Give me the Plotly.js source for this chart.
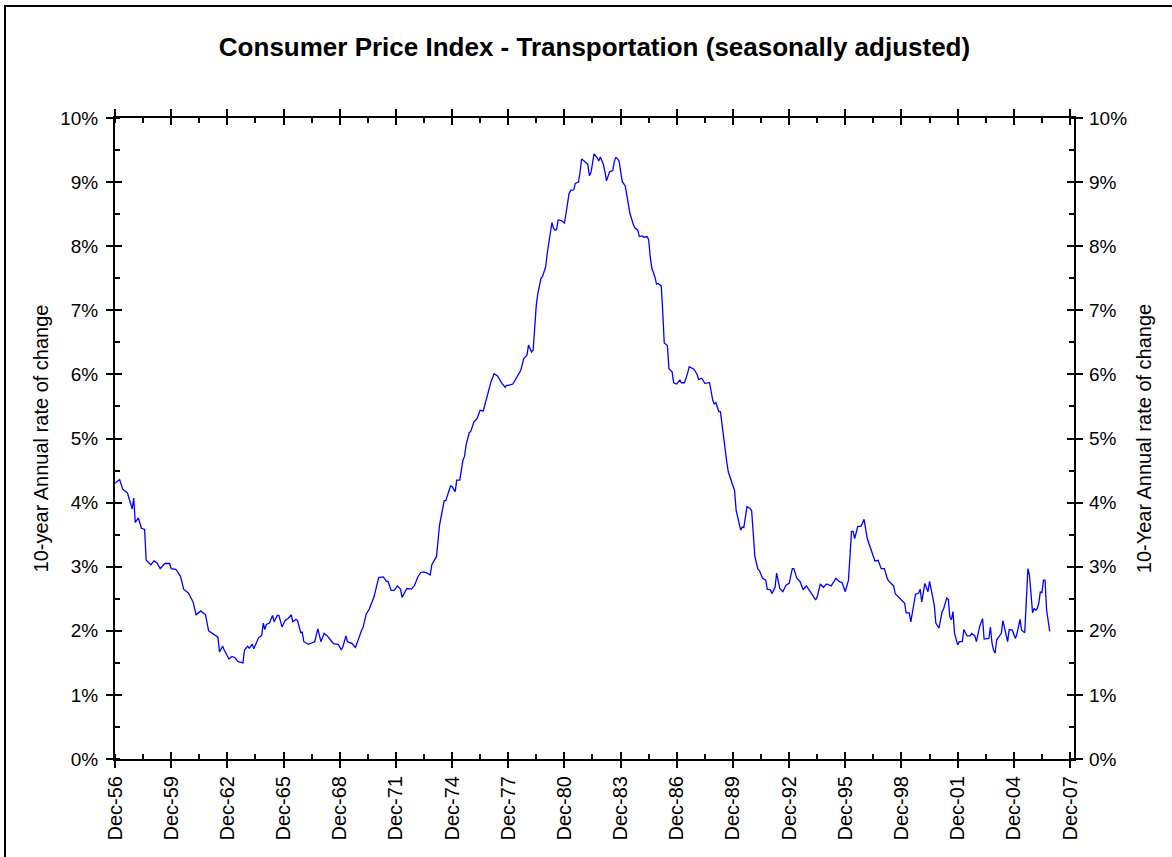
<!DOCTYPE html>
<html>
<head>
<meta charset="utf-8">
<script src="https://cdn.plot.ly/plotly-3.0.1.min.js"></script>
<style>
  html, body { margin: 0; padding: 0; overflow: hidden; background: #fff; }
  #chart { width: 1172px; height: 857px; }
  #frame { position: absolute; left: 4px; top: 5px; width: 1200px; height: 900px;
           border: 2px solid #000; pointer-events: none; }
</style>
</head>
<body>
<div id="chart"></div>
<div id="frame"></div>
<script>
const dates = [
 '1956-12','1957-03','1957-05','1957-08','1957-11','1957-12','1958-01','1958-03','1958-05','1958-07',
 '1958-08','1958-11','1959-01','1959-03','1959-05','1959-08','1959-11','1959-12','1960-03','1960-06',
 '1960-08','1960-11','1961-02','1961-04','1961-07','1961-10','1961-12','1962-02','1962-04','1962-06',
 '1962-07','1962-09','1962-10','1963-01','1963-03','1963-05','1963-07','1963-10','1963-11','1964-01',
 '1964-02','1964-04','1964-05','1964-08','1964-10','1964-11','1964-12','1965-01','1965-03','1965-05',
 '1965-06','1965-08','1965-09','1965-11','1966-01','1966-03','1966-05','1966-06','1966-08','1966-09',
 '1966-11','1966-12','1967-01','1967-04','1967-06','1967-08','1967-10','1967-12','1968-02','1968-04',
 '1968-06','1968-08','1968-11','1969-01','1969-02','1969-04','1969-05','1969-08','1969-10','1969-11',
 '1970-02','1970-03','1970-05','1970-07','1970-10','1970-11','1971-01','1971-04','1971-06','1971-07',
 '1971-09','1971-11','1972-01','1972-03','1972-04','1972-07','1972-10','1972-12','1973-02','1973-04',
 '1973-06','1973-08','1973-10','1973-11','1974-02','1974-04','1974-05','1974-07','1974-08','1974-11',
 '1974-12','1975-02','1975-03','1975-05','1975-07','1975-08','1975-09','1975-11','1975-12','1976-02',
 '1976-04','1976-06','1976-08','1976-10','1977-01','1977-03','1977-05','1977-08','1977-10','1977-11',
 '1977-12','1978-03','1978-06','1978-08','1978-10','1978-12','1979-01','1979-03','1979-04','1979-05',
 '1979-06','1979-07','1979-09','1979-10','1979-12','1980-01','1980-03','1980-04','1980-05','1980-06',
 '1980-07','1980-08','1980-10','1980-12','1981-01','1981-03','1981-04','1981-06','1981-07','1981-09',
 '1981-10','1981-11','1982-01','1982-03','1982-04','1982-05','1982-06','1982-07','1982-09','1982-10',
 '1982-11','1982-12','1983-01','1983-02','1983-03','1983-05','1983-07','1983-08','1983-09','1983-11',
 '1983-12','1984-01','1984-03','1984-04','1984-05','1984-06','1984-08','1984-09','1984-11','1984-12',
 '1985-02','1985-03','1985-05','1985-06','1985-07','1985-08','1985-10','1985-11','1985-12','1986-02',
 '1986-03','1986-04','1986-06','1986-07','1986-09','1986-10','1986-12','1987-02','1987-03','1987-05',
 '1987-07','1987-08','1987-11','1988-01','1988-02','1988-04','1988-06','1988-09','1988-11','1988-12',
 '1989-01','1989-03','1989-04','1989-06','1989-08','1989-09','1989-11','1990-01','1990-02','1990-04',
 '1990-05','1990-06','1990-07','1990-09','1990-11','1990-12','1991-01','1991-02','1991-04','1991-05',
 '1991-07','1991-09','1991-10','1991-12','1992-01','1992-03','1992-04','1992-06','1992-08','1992-10',
 '1992-12','1993-01','1993-02','1993-03','1993-05','1993-07','1993-09','1993-11','1994-01','1994-02',
 '1994-03','1994-05','1994-06','1994-08','1994-10','1994-12','1995-03','1995-06','1995-08','1995-10',
 '1995-12','1996-02','1996-03','1996-04','1996-05','1996-06','1996-08','1996-10','1996-11','1996-12',
 '1997-02','1997-04','1997-05','1997-07','1997-09','1997-11','1998-01','1998-03','1998-04','1998-07',
 '1998-08','1998-10','1998-12','1999-02','1999-03','1999-05','1999-06','1999-07','1999-09','1999-11',
 '1999-12','2000-01','2000-03','2000-05','2000-06','2000-09','2000-10','2000-12','2001-02','2001-03',
 '2001-05','2001-06','2001-07','2001-08','2001-09','2001-10','2001-12','2002-01','2002-03','2002-04',
 '2002-06','2002-08','2002-09','2002-11','2002-12','2003-02','2003-04','2003-05','2003-07','2003-08',
 '2003-09','2003-10','2003-11','2003-12','2004-01','2004-03','2004-04','2004-05','2004-06','2004-08',
 '2004-09','2004-11','2005-01','2005-02','2005-04','2005-05','2005-07','2005-08','2005-09','2005-10',
 '2005-12','2006-01','2006-02','2006-03','2006-04','2006-05','2006-06','2006-07','2006-08','2006-09',
 '2006-11'
];

// 10-year annual rate of change, percent
const rateOfChange = [
 4.30,4.36,4.21,4.15,3.90,4.07,3.69,3.76,3.60,3.58,
 3.10,3.03,3.09,3.06,2.97,3.05,3.05,2.97,2.96,2.85,
 2.65,2.59,2.45,2.25,2.31,2.25,2.00,1.97,1.93,1.90,
 1.67,1.76,1.70,1.56,1.60,1.58,1.52,1.50,1.70,1.76,
 1.73,1.79,1.72,1.89,1.93,2.12,2.02,2.10,2.12,2.24,
 2.14,2.24,2.24,2.06,2.16,2.19,2.25,2.14,2.18,2.16,
 1.97,1.98,1.83,1.79,1.81,1.83,2.03,1.83,1.96,1.92,
 1.86,1.80,1.79,1.70,1.75,1.92,1.83,1.80,1.74,1.80,
 2.01,2.05,2.26,2.34,2.53,2.64,2.83,2.84,2.77,2.77,
 2.63,2.63,2.70,2.65,2.52,2.66,2.65,2.71,2.84,2.91,
 2.92,2.90,2.87,3.03,3.16,3.65,3.78,4.03,4.03,4.26,
 4.25,4.17,4.35,4.35,4.66,4.72,4.90,5.09,5.11,5.26,
 5.31,5.44,5.43,5.63,5.89,6.01,5.98,5.86,5.80,5.83,
 5.83,5.85,5.99,6.06,6.25,6.30,6.46,6.35,6.38,6.74,
 7.08,7.26,7.50,7.53,7.68,7.89,8.25,8.37,8.28,8.25,
 8.26,8.41,8.40,8.36,8.51,8.82,8.87,8.88,8.98,9.00,
 9.15,9.36,9.32,9.28,9.10,9.14,9.29,9.44,9.38,9.33,
 9.39,9.32,9.27,9.15,9.02,9.16,9.18,9.32,9.39,9.33,
 9.14,9.01,8.94,8.80,8.69,8.51,8.35,8.29,8.25,8.15,
 8.16,8.14,8.15,8.10,7.84,7.66,7.52,7.41,7.42,7.38,
 7.00,6.49,6.45,6.09,6.04,5.87,5.85,5.91,5.87,5.87,
 6.02,6.12,6.08,6.00,5.92,5.94,5.86,5.87,5.60,5.54,
 5.56,5.42,5.42,4.98,4.64,4.48,4.33,4.19,3.88,3.68,
 3.57,3.62,3.61,3.94,3.91,3.87,3.57,3.16,2.96,2.94,
 2.82,2.79,2.65,2.64,2.58,2.68,2.90,2.66,2.61,2.71,
 2.74,2.84,2.97,2.97,2.82,2.77,2.64,2.70,2.63,2.61,
 2.56,2.48,2.53,2.73,2.68,2.73,2.70,2.82,2.77,2.75,
 2.61,2.79,3.16,3.55,3.55,3.44,3.63,3.63,3.68,3.74,
 3.44,3.31,3.23,3.09,3.10,2.97,2.97,2.81,2.77,2.70,
 2.58,2.53,2.49,2.43,2.28,2.28,2.14,2.27,2.57,2.59,
 2.65,2.45,2.74,2.61,2.77,2.40,2.12,2.04,2.30,2.34,
 2.51,2.49,2.22,2.17,2.30,1.96,1.78,1.83,1.83,2.02,
 1.92,1.92,1.96,1.92,1.83,2.06,2.19,1.87,1.88,1.88,
 2.06,1.81,1.70,1.65,1.86,1.93,1.96,2.16,2.06,1.83,
 2.02,2.01,1.88,1.96,2.18,2.01,1.97,2.53,2.97,2.87,
 2.28,2.35,2.32,2.35,2.43,2.61,2.59,2.79,2.79,2.32,
 1.99
];

const chartTitle = 'Consumer Price Index - Transportation (seasonally adjusted)';
const leftAxisTitle = '10-year Annual rate of change';
const rightAxisTitle = '10-Year Annual rate of change';

const FONT = 'Arial, "Liberation Sans", sans-serif';
const xRange = ['1956-12-01', '2008-02-17'];
const yRange = [0, 10];

const traces = [
  {
    x: dates, y: rateOfChange, type: 'scatter', mode: 'lines',
    line: { color: '#0000FF', width: 1.3 },
    xaxis: 'x', yaxis: 'y', showlegend: false, hoverinfo: 'x+y'
  },
  { x: [], y: [], type: 'scatter', mode: 'lines', xaxis: 'x2', yaxis: 'y2', showlegend: false }
];

const yTickFont = { family: FONT, size: 19, color: '#000' };
const xTickFont = { family: FONT, size: 20, color: '#000' };
const axisTitleFont = { family: FONT, size: 20, color: '#000' };

const layout = {
  width: 1172, height: 857,
  margin: { l: 115, r: 98, t: 118, b: 98 },
  paper_bgcolor: '#fff', plot_bgcolor: '#fff',
  showlegend: false,
  title: {
    text: '<b>' + chartTitle + '</b>',
    font: { family: FONT, size: 26, color: '#000' },
    x: 0.5, xref: 'paper', xanchor: 'center',
    y: 1 - 47 / 857, yref: 'container', yanchor: 'middle'
  },
  xaxis: {
    type: 'date', range: xRange, fixedrange: true,
    tick0: '1956-12-01', dtick: 'M36', tickformat: '%b-%y', tickangle: -90,
    ticks: 'outside', ticklen: 7, tickwidth: 2, tickcolor: '#000',
    showline: true, linewidth: 2, linecolor: '#000', mirror: 'allticks',
    showgrid: false, zeroline: false, tickfont: xTickFont, ticklabelstandoff: 0,
    minor: { tick0: '1955-06-01', dtick: 'M18', ticks: 'inside', ticklen: 5, tickwidth: 2, tickcolor: '#000', showgrid: false }
  },
  xaxis2: {
    type: 'date', range: xRange, overlaying: 'x', anchor: 'y', fixedrange: true,
    tick0: '1956-12-01', dtick: 'M36',
    ticks: 'inside', ticklen: 7, tickwidth: 2, tickcolor: '#000',
    showline: false, mirror: 'allticks', showticklabels: false,
    showgrid: false, zeroline: false
  },
  yaxis: {
    range: yRange, fixedrange: true, dtick: 1, tick0: 0, ticksuffix: '%',
    ticks: 'outside', ticklen: 7, tickwidth: 2, tickcolor: '#000',
    showline: true, linewidth: 2, linecolor: '#000', mirror: 'allticks',
    showgrid: false, zeroline: false, tickfont: yTickFont, ticklabelstandoff: 4,
    minor: { dtick: 0.5, tick0: 0, ticks: 'inside', ticklen: 5, tickwidth: 2, tickcolor: '#000', showgrid: false },
    title: { text: leftAxisTitle, font: axisTitleFont, standoff: 6 }
  },
  yaxis2: {
    range: yRange, overlaying: 'y', side: 'right', anchor: 'x', fixedrange: true,
    dtick: 1, tick0: 0, ticksuffix: '%',
    ticks: 'inside', ticklen: 7, tickwidth: 2, tickcolor: '#000',
    showline: false, mirror: 'allticks',
    showgrid: false, zeroline: false, tickfont: yTickFont, ticklabelstandoff: 14,
    title: { text: rightAxisTitle, font: axisTitleFont, standoff: 10 }
  }
};

Plotly.newPlot('chart', traces, layout, { displayModeBar: false, staticPlot: true });
</script>
</body>
</html>
